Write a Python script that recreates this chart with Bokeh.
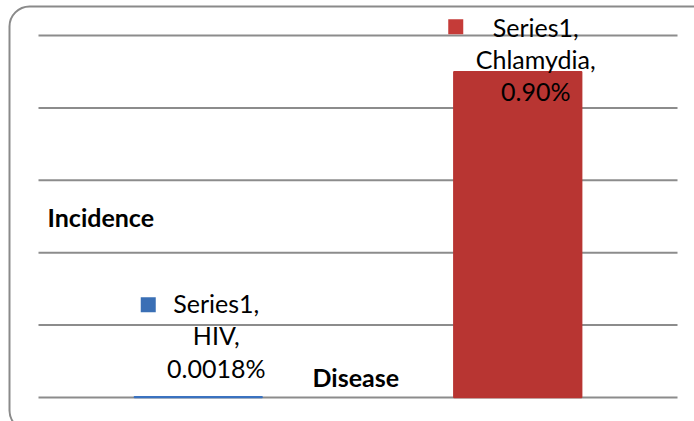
from bokeh.plotting import figure
from bokeh.models import Range1d, ColumnDataSource, Label, BoxAnnotation
from bokeh.transform import dodge
from bokeh.core.properties import value
from bokeh.embed import file_html
from bokeh.resources import INLINE

# ---------------- data ----------------
series_name = "Series1"
categories = ["HIV", "Chlamydia"]
incidence_pct = [0.0018, 0.90]
value_labels = ["0.0018%", "0.90%"]
y_ticks = [0.0, 0.2, 0.4, 0.6, 0.8, 1.0]
x_title = "Disease"
y_title = "Incidence"

# ---------------- style / layout ----------------
W, H = 694, 421
PLOT_LEFT, PLOT_RIGHT = 38, 677      # px, extent of the category band
PLOT_BOTTOM = 397                    # px from top, y = 0
PX_PER_UNIT_Y = 362.0                # px per 1.0 %
px_per_cat = (PLOT_RIGHT - PLOT_LEFT) / len(categories)

x_start = -PLOT_LEFT / px_per_cat
x_end = len(categories) + (W - PLOT_RIGHT) / px_per_cat
y_start = -(H - PLOT_BOTTOM) / PX_PER_UNIT_Y
y_end = PLOT_BOTTOM / PX_PER_UNIT_Y

FONT = "Lato"
FONT_SIZE = "25px"
GRID_COLOR = "#8c8c8c"
bar_colors = ["#3a72c0", "#b83532"]
key_colors = ["#3a6fb5", "#c53b38"]
label_dx = [18, 18]                               # px, label centre vs bar centre
label_line_dy = [[-94, -62, -29], [-45, -13, 19]]  # px, baselines vs bar top
key_dx = [-50, -62]                               # px, key centre vs bar centre
key_dy = [-92, -45]                               # px, key centre vs bar top

p = figure(width=W, height=H,
           x_range=Range1d(x_start, x_end), y_range=Range1d(y_start, y_end),
           output_backend="svg", toolbar_location=None,
           min_border_left=0, min_border_right=0, min_border_top=0, min_border_bottom=0)
p.axis.visible = False
p.grid.visible = False
p.outline_line_color = None
p.background_fill_color = "white"
p.border_fill_color = "white"

# category positions on the x scale
xpos = [i + 0.5 for i in range(len(categories))]

# horizontal gridlines (value axis ticks) across the category band
p.segment(x0=[0] * len(y_ticks), x1=[len(categories)] * len(y_ticks),
          y0=y_ticks, y1=y_ticks, line_color=GRID_COLOR, line_width=2)

# bars
src = ColumnDataSource(dict(x=xpos, cat=categories, val=incidence_pct, color=bar_colors))
p.vbar(x="x", top="val", width=0.4, fill_color="color", line_color="color",
       line_width=1.5, source=src)

# data labels
rows = dict(x=[], val=[], text=[], dx=[], dy=[])
for i, cat in enumerate(categories):
    lines = [f"{series_name},", f"{cat},", value_labels[i]]
    for j, t in enumerate(lines):
        rows["x"].append(xpos[i])
        rows["val"].append(incidence_pct[i])
        rows["text"].append(t)
        rows["dx"].append(label_dx[i])
        rows["dy"].append(label_line_dy[i][j])
p.text(x="x", y="val", text="text", x_offset="dx", y_offset="dy",
       text_align="center", text_baseline="alphabetic",
       text_font=value(FONT), text_font_size=FONT_SIZE, text_color="#000000",
       source=ColumnDataSource(rows))

# legend keys inside the data labels
for i, cat in enumerate(categories):
    ks = ColumnDataSource(dict(x=[xpos[i]], val=[incidence_pct[i]]))
    p.rect(x=dodge("x", key_dx[i] / px_per_cat, range=p.x_range),
           y=dodge("val", -key_dy[i] / PX_PER_UNIT_Y, range=p.y_range),
           width=15, height=15, width_units="screen", height_units="screen",
           fill_color=key_colors[i], line_color=None, source=ks)

# axis titles
p.add_layout(Label(x=47, y=(PLOT_BOTTOM - 216) / PX_PER_UNIT_Y, x_units="canvas", y_units="data",
                   text=y_title, text_font=FONT, text_font_style="bold",
                   text_font_size=FONT_SIZE, text_baseline="alphabetic",
                   text_color="#000000"))
p.add_layout(Label(x=312, y=(PLOT_BOTTOM - 376) / PX_PER_UNIT_Y, x_units="canvas", y_units="data",
                   text=x_title, text_font=FONT, text_font_style="bold",
                   text_font_size=FONT_SIZE, text_baseline="alphabetic",
                   text_color="#000000"))

# rounded chart border
p.add_layout(BoxAnnotation(left=9, right=W + 20, left_units="canvas", right_units="canvas",
                           top=(PLOT_BOTTOM - 6) / PX_PER_UNIT_Y,
                           bottom=-(430 - PLOT_BOTTOM) / PX_PER_UNIT_Y,
                           top_units="data", bottom_units="data",
                           fill_alpha=0, line_color="#8a8a8a", line_width=2,
                           line_alpha=1, border_radius=20, level="overlay"))

open("out.html", "w").write(file_html(p, INLINE))
